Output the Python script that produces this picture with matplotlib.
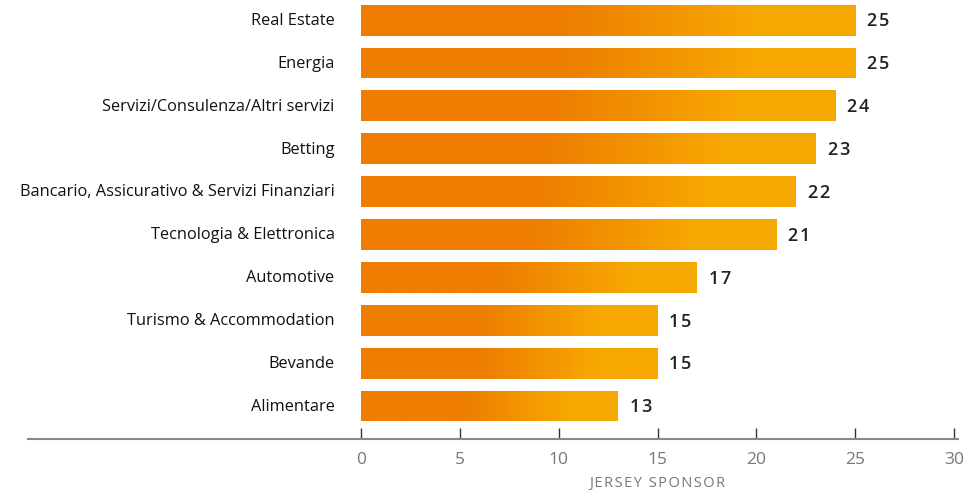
import numpy as np
import matplotlib.pyplot as plt
from matplotlib.colors import LinearSegmentedColormap

# Data (top to bottom as in the chart)
categories = ['Real Estate', 'Energia', 'Servizi/Consulenza/Altri servizi', 'Betting',
              'Bancario, Assicurativo & Servizi Finanziari', 'Tecnologia & Elettronica',
              'Automotive', 'Turismo & Accommodation', 'Bevande', 'Alimentare']
values = [25, 25, 24, 23, 22, 21, 17, 15, 15, 13]
xticks = [0, 5, 10, 15, 20, 25, 30]
xlabel = 'JERSEY SPONSOR'

plt.rcParams['font.family'] = ['Open Sans', 'DejaVu Sans']

cmap = LinearSegmentedColormap.from_list(
    'orange', [(0.0, '#EE7D00'), (0.4, '#EE7D00'), (0.8, '#F7A800'), (1.0, '#F7A800')])

fig = plt.figure(figsize=(9.67, 4.91), dpi=100)
ax = fig.add_axes([28 / 967, 1 - 439 / 491, 930 / 967, 439 / 491])

n = len(categories)
ypos = np.arange(n)[::-1]
bar_h = 0.72

bars = ax.barh(ypos, values, height=bar_h, color='none', edgecolor='none')
grad = np.linspace(0, 1, 256).reshape(1, -1)
for bar, y, v, name in zip(bars, ypos, values, categories):
    im = ax.imshow(grad, cmap=cmap, aspect='auto', interpolation='bilinear',
                   extent=[0, v, y - bar_h / 2, y + bar_h / 2], zorder=2)
    im.set_clip_path(bar)
    ax.text(v + 0.6, y - 0.03, '\u200a'.join(str(v)), ha='left', va='center',
            fontsize=13, color='#222222', fontweight='semibold')
    ax.text(-1.35, y - 0.02, name, ha='right', va='center', fontsize=11.8,
            color='#111111')

ax.set_xlim(-16.86, 30.2)
ax.set_ylim(-0.77, n - 0.53)

ax.set_xticks(xticks)
ax.set_xticklabels([str(t) for t in xticks], fontsize=12.5, color='#777777')
ax.tick_params(axis='x', direction='in', length=8, width=1, color='#333333', pad=9)
ax.set_yticks([])
for s in ['top', 'right', 'left']:
    ax.spines[s].set_visible(False)
ax.spines['bottom'].set_color('#888888')
ax.spines['bottom'].set_linewidth(1.5)

ax.text(15, -1.8, '\u200a'.join(xlabel), ha='center', va='center', fontsize=10.5,
        color='#777777')

fig.savefig('out.png', dpi=100)
